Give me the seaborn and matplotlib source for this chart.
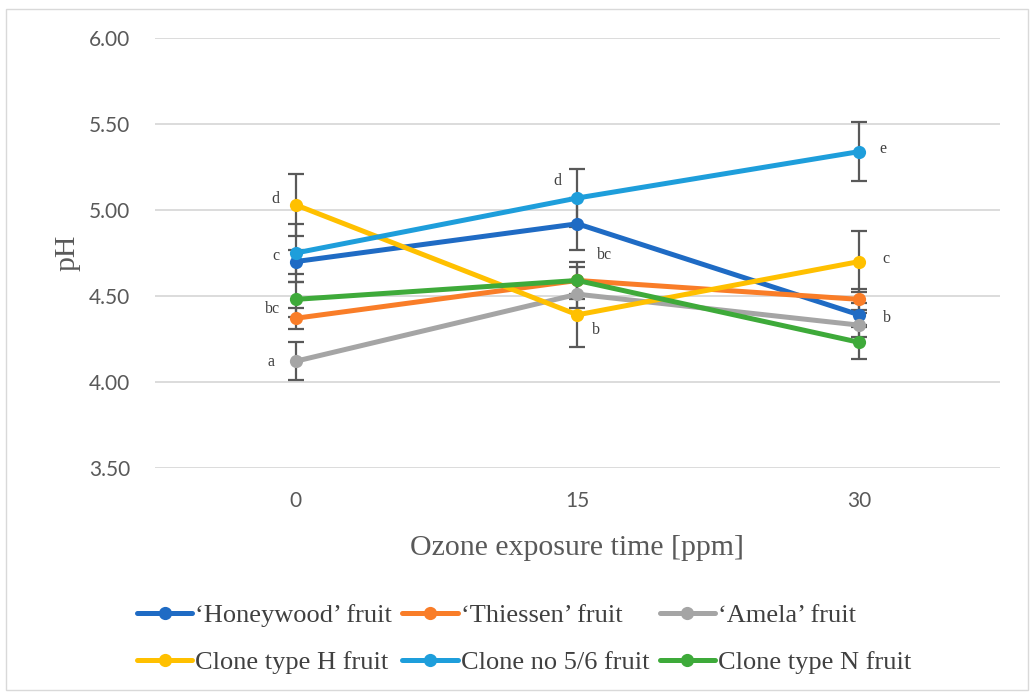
import pandas as pd
import matplotlib.pyplot as plt
import seaborn as sns
from matplotlib.patches import Rectangle

# Data
times = ["0", "15", "30"]
series_names = ["\u2018Honeywood\u2019 fruit", "\u2018Thiessen\u2019 fruit", "\u2018Amela\u2019 fruit",
                "Clone type H fruit", "Clone no 5/6 fruit", "Clone type N fruit"]
honeywood = [4.70, 4.92, 4.39]
thiessen = [4.37, 4.59, 4.48]
amela = [4.12, 4.51, 4.33]
clone_h = [5.03, 4.39, 4.70]
clone_56 = [4.75, 5.07, 5.34]
clone_n = [4.48, 4.59, 4.23]

honeywood_err = [0.07, 0.15, 0.07]
thiessen_err = [0.06, 0.08, 0.06]
amela_err = [0.11, 0.08, 0.07]
clone_h_err = [0.18, 0.19, 0.18]
clone_56_err = [0.17, 0.17, 0.17]
clone_n_err = [0.10, 0.11, 0.10]

# significance letters: (series index, time index, letter)
letter_series = [3, 4, 1, 2, 4, 0, 3, 4, 3, 0]
letter_times = [0, 0, 0, 0, 1, 1, 1, 2, 2, 2]
letter_text = ["d", "c", "bc", "a", "d", "bc", "b", "e", "c", "b"]

colors = ["#1F6BC4", "#F97D28", "#A5A5A5", "#FFC000", "#1E9EDB", "#3EAA3A"]

values = [honeywood, thiessen, amela, clone_h, clone_56, clone_n]
errors = [honeywood_err, thiessen_err, amela_err, clone_h_err, clone_56_err, clone_n_err]

rows = []
for name, vals in zip(series_names, values):
    for i, v in enumerate(vals):
        rows.append({"series": name, "pos": i, "pH": v})
df = pd.DataFrame(rows)

sns.set_theme(style="white")
plt.rcParams['font.family'] = ['Liberation Serif', 'DejaVu Serif']

fig = plt.figure(figsize=(10.33, 6.95), dpi=100)
ax = fig.add_axes([0.150, 0.327, 0.818, 0.618])

# error bars first so lines sit on top
for vals, errs in zip(values, errors):
    ax.errorbar(range(len(times)), vals, yerr=errs, fmt="none", ecolor="#595959",
                elinewidth=1.6, capsize=6, capthick=1.6, zorder=2)

sns.lineplot(data=df, x="pos", y="pH", hue="series", hue_order=series_names,
             palette=colors, marker="o", markersize=9.5, markeredgewidth=0,
             linewidth=3.6, ax=ax, zorder=3, legend=True)

offsets = [(-20, 6), (-20, -3), (-23, 9), (-25, -1), (-20, 17),
           (27, -31), (18, -15), (24, 3), (27, 3), (28, -3)]
for s, t, lab, off in zip(letter_series, letter_times, letter_text, offsets):
    ax.annotate(lab, (t, values[s][t]), xytext=off, textcoords="offset pixels",
                ha="center", va="center", fontsize=11.5, color="#404040", zorder=5)

ax.set_xlim(-0.5, 2.5)
ax.set_ylim(3.5, 6.0)
ax.set_xticks(range(len(times)))
ax.set_xticklabels(times)
ax.set_yticks([3.5, 4.0, 4.5, 5.0, 5.5, 6.0])
ax.set_yticklabels([f"{v:.2f}" for v in [3.5, 4.0, 4.5, 5.0, 5.5, 6.0]])
ax.yaxis.grid(True, color="#D9D9D9", linewidth=1.3)
ax.xaxis.grid(False)
for sp in ax.spines.values():
    sp.set_visible(False)
ax.tick_params(axis="both", length=0, labelsize=15, labelcolor="#595959")
ax.tick_params(axis="y", pad=18)
ax.tick_params(axis="x", pad=17)
for lbl in ax.get_xticklabels() + ax.get_yticklabels():
    lbl.set_family(["Lato", "DejaVu Sans"])

ax.set_xlabel("Ozone exposure time [ppm]", fontsize=21.5, color="#595959", labelpad=17)
ax.set_ylabel("pH", fontsize=21.5, color="#595959", labelpad=6)

# legend filled row by row like the reference
handles, labels = ax.get_legend_handles_labels()
order = [0, 3, 1, 4, 2, 5]
ax.legend([handles[i] for i in order], [labels[i] for i in order], ncol=3,
          loc="center left", bbox_to_anchor=(0.1326, 0.0806),
          bbox_transform=fig.transFigure, frameon=False, fontsize=19,
          handlelength=2.1, handletextpad=0.1, columnspacing=0.4, labelspacing=0.9,
          borderpad=0, borderaxespad=0, labelcolor="#404040")

fig.patches.append(Rectangle((0.006, 0.007), 0.989, 0.98, transform=fig.transFigure,
                             fill=False, edgecolor="#D9D9D9", linewidth=1))

fig.savefig("out.png", dpi=100)
